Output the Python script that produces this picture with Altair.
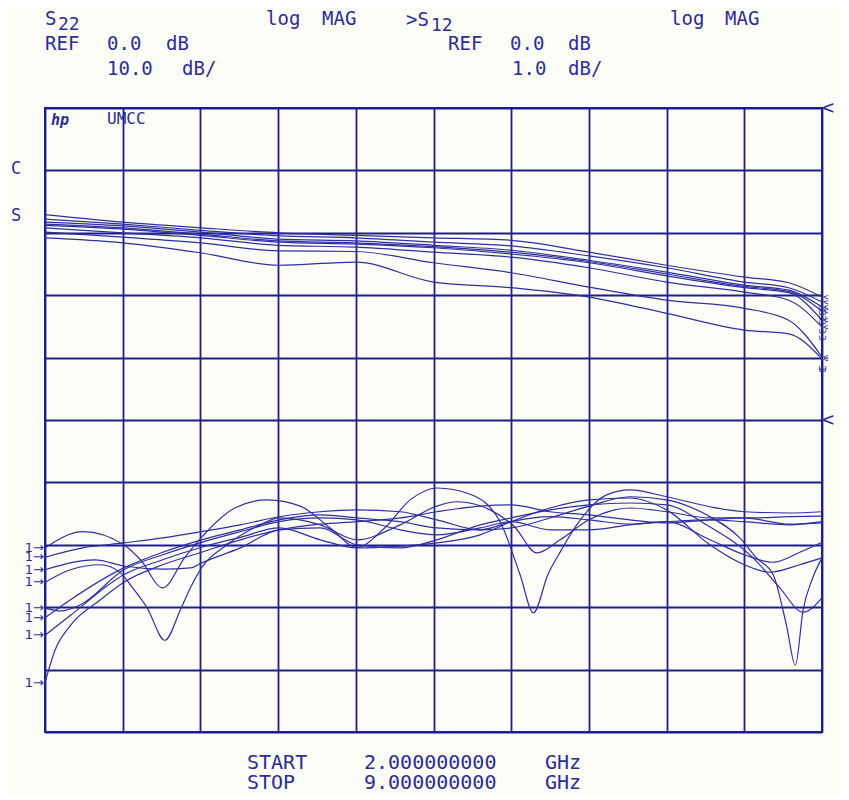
import altair as alt
import pandas as pd

# ---------------- data ----------------
FREQ_GRID = [2.0, 2.7, 3.4, 4.1, 4.8, 5.5, 6.2, 6.9, 7.6, 8.3, 9.0]
S22_DB_GRID = [0, -10, -20, -30, -40, -50, -60, -70, -80, -90, -100]

# S22 (10 dB/div, REF 0 dB at top line)
S22_FREQ = [2.0, 2.7, 3.4, 4.1, 4.8, 5.5, 6.2, 6.9, 7.6, 8.3, 8.7, 9.0]
S22_T1 = [-17.1, -18.3, -19.2, -20.0, -20.4, -20.8, -21.2, -23.1, -25.2, -27.1, -28.0, -30.3]
S22_T2 = [-17.8, -18.6, -19.6, -20.5, -20.8, -21.5, -22.1, -23.7, -25.6, -27.9, -28.8, -31.1]
S22_T3 = [-18.3, -18.9, -19.9, -21.0, -21.3, -22.0, -22.8, -24.4, -26.3, -28.4, -29.2, -31.9]
S22_T4 = [-18.6, -19.2, -20.2, -21.3, -21.6, -22.2, -23.1, -24.6, -26.6, -28.6, -29.4, -32.6]
S22_T5 = [-18.8, -19.4, -20.4, -21.5, -21.8, -22.4, -23.4, -24.8, -26.9, -28.8, -29.6, -34.0]
S22_T6 = [-19.2, -20.0, -20.8, -22.0, -22.3, -23.1, -23.9, -25.6, -27.9, -29.5, -30.8, -35.1]
S22_T7 = [-19.9, -20.7, -21.6, -22.9, -23.0, -24.8, -26.4, -28.7, -30.8, -32.1, -34.0, -39.9]
S22_T8 = [-20.8, -21.6, -23.2, -25.2, -24.7, -27.9, -28.8, -30.3, -32.9, -35.6, -36.2, -40.2]
S22_TRACES = [S22_T1, S22_T2, S22_T3, S22_T4, S22_T5, S22_T6, S22_T7, S22_T8]

# S12 (1 dB/div, REF 0 dB at the centre line)
S12_T1_F = [2.00, 2.34, 2.71, 2.86, 3.06, 3.26, 3.41, 3.71, 4.00, 4.30, 4.57, 4.81, 5.06, 5.29, 5.53,
            5.83, 6.10, 6.28, 6.40, 6.53, 6.64, 6.79, 7.06, 7.27, 7.60, 7.99, 8.30, 8.71, 9.00]
S12_T1_DB = [-2.05, -1.79, -2.00, -2.24, -2.69, -2.20, -1.88, -1.41, -1.28, -1.38, -1.73, -2.04, -1.73, -1.28, -1.09,
             -1.19, -1.63, -2.48, -3.09, -2.48, -2.12, -1.68, -1.20, -1.12, -1.23, -1.39, -1.47, -1.49, -1.47]
S12_T2_F = [2.00, 2.34, 2.71, 3.06, 3.41, 3.76, 4.11, 4.48, 4.81, 5.20, 5.53, 5.92, 6.20, 6.55, 6.90,
            7.27, 7.60, 7.96, 8.26, 8.41, 8.56, 8.68, 8.76, 8.83, 8.91, 9.00]
S12_T2_DB = [-2.20, -2.05, -1.97, -1.89, -1.79, -1.68, -1.55, -1.47, -1.44, -1.47, -1.60, -1.76, -1.73, -1.57, -1.38,
             -1.23, -1.28, -1.52, -1.89, -2.21, -2.48, -3.29, -3.93, -3.04, -2.56, -2.21]
S12_T3_F = [2.00, 2.45, 2.71, 3.06, 3.31, 3.41, 3.76, 4.11, 4.48, 4.81, 5.20, 5.53, 5.92, 6.20, 6.55,
            6.90, 7.27, 7.60, 7.96, 8.38, 8.62, 8.83, 9.00]
S12_T3_DB = [-2.40, -2.24, -2.34, -2.39, -2.37, -2.29, -2.05, -1.76, -1.73, -2.00, -2.05, -1.92, -1.68, -1.57, -1.44,
             -1.36, -1.33, -1.36, -1.68, -2.21, -2.69, -3.08, -2.85]
S12_T4_F = [2.00, 2.23, 2.50, 2.68, 2.79, 2.92, 3.08, 3.22, 3.31, 3.41, 3.64, 3.94, 4.11, 4.48, 4.81,
            5.20, 5.53, 5.71, 6.01, 6.23, 6.43, 6.64, 6.90, 7.27, 7.60, 7.99, 8.30, 8.71, 9.00]
S12_T4_DB = [-2.60, -2.40, -2.32, -2.45, -2.69, -3.01, -3.53, -3.04, -2.69, -2.37, -2.00, -1.68, -1.57, -1.68, -1.92,
             -1.68, -1.38, -1.31, -1.44, -1.71, -2.13, -1.92, -1.60, -1.41, -1.47, -1.57, -1.57, -1.55, -1.54]
S12_T5_F = [2.00, 2.14, 2.32, 2.71, 3.06, 3.41, 3.76, 4.11, 4.48, 4.81, 5.20, 5.53, 5.92, 6.20, 6.55,
            6.90, 7.27, 7.60, 7.99, 8.30, 8.56, 8.80, 9.00]
S12_T5_DB = [-3.01, -3.06, -2.96, -2.40, -2.16, -1.96, -1.79, -1.63, -1.57, -1.60, -1.76, -1.84, -1.73, -1.63, -1.76,
             -1.76, -1.68, -1.63, -1.92, -2.16, -2.28, -2.12, -1.96]
S12_T6_F = [2.00, 2.23, 2.71, 3.06, 3.41, 3.76, 4.11, 4.48, 4.81, 5.20, 5.53, 5.92, 6.20, 6.55, 6.90,
            7.27, 7.60, 7.99, 8.30, 8.71, 9.00]
S12_T6_DB = [-3.17, -2.88, -2.37, -2.12, -1.92, -1.76, -1.60, -1.52, -1.57, -1.63, -1.73, -1.76, -1.63, -1.55, -1.60,
             -1.67, -1.63, -1.60, -1.63, -1.68, -1.63]
S12_T7_F = [2.00, 2.23, 2.71, 3.06, 3.41, 3.76, 4.11, 4.48, 4.81, 5.20, 5.53, 5.92, 6.20, 6.55, 6.90,
            7.27, 7.60, 7.99, 8.30, 8.53, 8.80, 9.00]
S12_T7_DB = [-3.45, -3.13, -2.48, -2.24, -2.04, -1.88, -1.73, -1.92, -2.05, -2.02, -1.97, -1.84, -1.63, -1.41, -1.28,
             -1.25, -1.44, -2.00, -2.32, -2.44, -2.32, -2.21]
S12_T8_F = [2.00, 2.09, 2.23, 2.50, 2.71, 3.06, 3.41, 3.76, 4.11, 4.48, 4.81, 5.20, 5.53, 5.92, 6.20,
            6.55, 6.90, 7.27, 7.60, 7.99, 8.30, 8.71, 9.00]
S12_T8_DB = [-4.21, -3.69, -3.29, -2.88, -2.60, -2.32, -2.12, -1.92, -1.76, -1.67, -1.63, -1.57, -1.47, -1.38, -1.36,
             -1.47, -1.52, -1.60, -1.65, -1.60, -1.57, -1.67, -1.65]
S12_TRACES = [(S12_T1_F, S12_T1_DB), (S12_T2_F, S12_T2_DB), (S12_T3_F, S12_T3_DB), (S12_T4_F, S12_T4_DB),
              (S12_T5_F, S12_T5_DB), (S12_T6_F, S12_T6_DB), (S12_T7_F, S12_T7_DB), (S12_T8_F, S12_T8_DB)]

# ---------------- tables ----------------
rows22 = []
for i, tr in enumerate(S22_TRACES):
    for f, v in zip(S22_FREQ, tr):
        rows22.append({"trace": i, "f": f, "db": v})
df22 = pd.DataFrame(rows22)
ends22 = pd.DataFrame({"f": [S22_FREQ[-1]] * len(S22_TRACES), "db": [t[-1] for t in S22_TRACES]})

rows12 = []
for i, (fs, vs) in enumerate(S12_TRACES):
    for f, v in zip(fs, vs):
        rows12.append({"trace": i, "f": f, "db": v})
df12 = pd.DataFrame(rows12)
starts12 = pd.DataFrame({"f": [t[0][0] for t in S12_TRACES], "db": [t[1][0] for t in S12_TRACES]})
ref_level = pd.DataFrame({"f": [9.0], "db": [0.0]})

# ---------------- style ----------------
GRID = "#1d1d8e"
TRACE = "#2f2fa3"
TEXT = "#2c2c96"
BG = "#fdfdf7"
FONT = "DejaVu Sans Mono"
LEFT, TOP = 45, 108  # page position of the plot area's top-left corner

X = alt.X("f:Q", scale=alt.Scale(domain=[2, 9], nice=False, zero=False),
          axis=alt.Axis(values=FREQ_GRID, grid=True, labels=False, ticks=False, domain=False,
                        title=None, gridColor=GRID, gridWidth=1.8, gridOpacity=1))
Y22_AXIS = alt.Y("db:Q", scale=alt.Scale(domain=[-100, 0], nice=False, zero=False),
                 axis=alt.Axis(values=S22_DB_GRID, grid=True, labels=False, ticks=False, domain=False,
                               title=None, gridColor=GRID, gridWidth=1.8, gridOpacity=1))
Y22 = alt.Y("db:Q", scale=alt.Scale(domain=[-100, 0], nice=False, zero=False), axis=None)
Y12 = alt.Y("db:Q", scale=alt.Scale(domain=[-5, 5], nice=False, zero=False), axis=None)

s22 = alt.Chart(df22).mark_line(color=TRACE, strokeWidth=1.2, interpolate="monotone").encode(
    x=X, y=Y22_AXIS, detail="trace:N")
s12 = alt.Chart(df12).mark_line(color=TRACE, strokeWidth=1.2, interpolate="monotone").encode(
    x=X, y=Y12, detail="trace:N")

end_marks = alt.Chart(ends22).mark_text(text="<", align="left", baseline="middle", dx=1,
                                        fontSize=9, font=FONT, color=TEXT).encode(x=X, y=Y22)
end_nums = alt.Chart(ends22).mark_text(text="3", align="center", baseline="middle", dx=11, angle=90,
                                       fontSize=9, font=FONT, color=TEXT).encode(x=X, y=Y22)
start_marks = alt.Chart(starts12).mark_text(text="1→", align="right", baseline="middle", dx=-1,
                                            fontSize=13, font="DejaVu Sans", color=TEXT).encode(x=X, y=Y12)
ref22 = alt.Chart(ref_level).mark_text(text="<", align="left", baseline="middle", dx=0,
                                       fontSize=20, font=FONT, color=TEXT).encode(x=X, y=Y22)
ref12 = alt.Chart(ref_level).mark_text(text="<", align="left", baseline="middle", dx=0,
                                       fontSize=20, font=FONT, color=TEXT).encode(x=X, y=Y12)

ANCHOR = alt.Data(values=[{"a": 1}])


def label(txt, px, py, size=19, style="normal", weight="normal"):
    return alt.Chart(ANCHOR).mark_text(
        text=txt, align="left", baseline="middle", fontSize=size, font=FONT,
        fontStyle=style, fontWeight=weight, color=TEXT).encode(x=alt.value(px - LEFT), y=alt.value(py - TOP))


labels = [
    label("S", 45, 19), label("22", 58, 25, 18),
    label("log", 266, 19), label("MAG", 322, 19),
    label(">S", 406, 20), label("12", 431, 26, 18),
    label("log", 670, 19), label("MAG", 725, 19),
    label("REF", 45, 44), label("0.0", 107, 44), label("dB", 166, 44),
    label("10.0", 107, 69), label("dB/", 182, 69),
    label("REF", 448, 44), label("0.0", 510, 44), label("dB", 568, 44),
    label("1.0", 512, 69), label("dB/", 568, 69),
    label("hp", 51, 120, 15, "italic", "bold"), label("UMCC", 107, 119, 16),
    label("C", 11, 169, 17), label("S", 11, 216, 17),
    label("START", 247, 763, 20), label("2.000000000", 364, 763, 20), label("GHz", 545, 763, 20),
    label("STOP", 247, 783, 20), label("9.000000000", 364, 783, 20), label("GHz", 545, 783, 20),
]

chart = alt.layer(s22, s12, end_marks, end_nums, start_marks, ref22, ref12, *labels).resolve_scale(
    y="independent"
).properties(
    width=777, height=624,
    padding={"left": 37, "top": 100, "right": 18, "bottom": 64},
    autosize=alt.AutoSizeParams(type="none"),
    background=BG,
).configure_view(stroke=GRID, strokeWidth=2)

chart.save("out.html", embed_options={"renderer": "svg", "actions": False})
